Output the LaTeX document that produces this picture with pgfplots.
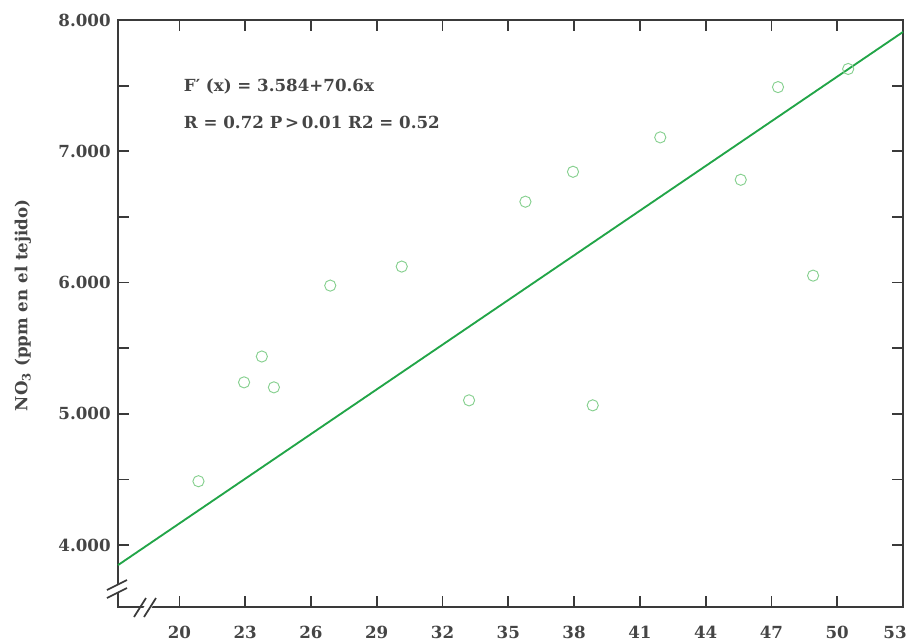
\documentclass[border=0pt]{standalone}
\usepackage{pgfplots}
\pgfplotsset{compat=1.18}
\usepackage{fontspec}
\setmainfont{DejaVu Serif}
\definecolor{axgray}{HTML}{3A3A3A}
\definecolor{txtgray}{HTML}{454545}
\definecolor{lgreen}{HTML}{22A548}
\definecolor{pgreen}{HTML}{86D08F}
\begin{document}
\begin{tikzpicture}[x=0.75pt,y=0.75pt]
\begin{axis}[
  at={(0,0)}, anchor=south west,
  width=588.75pt, height=440.25pt, scale only axis,
  xmin=17.2, xmax=53, ymin=3529, ymax=8000,
  axis line style={axgray, line width=1.6pt},
  every tick/.style={axgray, line width=1.3pt},
  tick align=inside,
  major tick length=8pt, minor tick length=8pt,
  xtick={20,23,26,29,32,35,38,41,44,47,50,53},
  xticklabels={20,23,26,29,32,35,38,41,44,47,50,{\hspace*{-6pt}53\hspace*{6pt}}},
  xtick pos=both, xticklabel pos=lower,
  ytick={4000,5000,6000,7000,8000},
  yticklabels={4.000,5.000,6.000,7.000,8.000},
  minor ytick={4500,5500,6500,7500},
  ytick pos=both, yticklabel pos=left,
  ticklabel style={font=\fontsize{12.5}{14}\selectfont\bfseries, text=txtgray},
  x tick label style={yshift=-11pt},
  y tick label style={xshift=-2pt},
  ylabel={NO\textsubscript{3} (ppm en el tejido)},
  ylabel style={at={(axis description cs:-0.121,0.514)}, anchor=center,
    font=\fontsize{12.5}{14}\selectfont\bfseries, text=txtgray},
  clip=false,
]
\addplot[lgreen, line width=1.4pt] coordinates {(17.2,3848) (53,7909)};
\addplot[only marks, mark=o, mark size=4.2pt, pgreen, mark options={line width=0.7pt}] coordinates {
(20.87,4487) (22.95,5240) (23.76,5437) (24.31,5202) (26.88,5977)
(30.14,6122) (33.21,5103) (35.78,6616) (37.95,6844) (38.85,5065)
(41.93,7106) (45.60,6783) (47.30,7489) (48.90,6053) (50.50,7627)
};
\node[anchor=west, text=txtgray, font=\fontsize{12.5}{14}\selectfont\bfseries]
  at (axis description cs:0.078,0.886) {F′ (x) = 3.584+70.6x};
\node[anchor=west, text=txtgray, font=\fontsize{12.5}{14}\selectfont\bfseries]
  at (axis description cs:0.078,0.826) {R = 0.72 P\,>\,0.01 R2 = 0.52};
\coordinate (bl) at (axis description cs:0,0);
\end{axis}
% axis break marks
\fill[white] ([shift={(-6,12)}]bl) -- ([shift={(6,18)}]bl) -- ([shift={(6,26)}]bl) -- ([shift={(-6,20)}]bl) -- cycle;
\draw[axgray, line width=1.3pt] ([shift={(-11,9)}]bl) -- ([shift={(9,19)}]bl);
\draw[axgray, line width=1.3pt] ([shift={(-11,17)}]bl) -- ([shift={(9,27)}]bl);
\fill[white] ([shift={(22,-6)}]bl) -- ([shift={(30,6)}]bl) -- ([shift={(38,6)}]bl) -- ([shift={(30,-6)}]bl) -- cycle;
\draw[axgray, line width=1.3pt] ([shift={(16,-10)}]bl) -- ([shift={(28,9)}]bl);
\draw[axgray, line width=1.3pt] ([shift={(26,-10)}]bl) -- ([shift={(38,9)}]bl);
\pgfresetboundingbox
\path[use as bounding box] (-118,-36) rectangle (792,607);
\end{tikzpicture}
\end{document}
